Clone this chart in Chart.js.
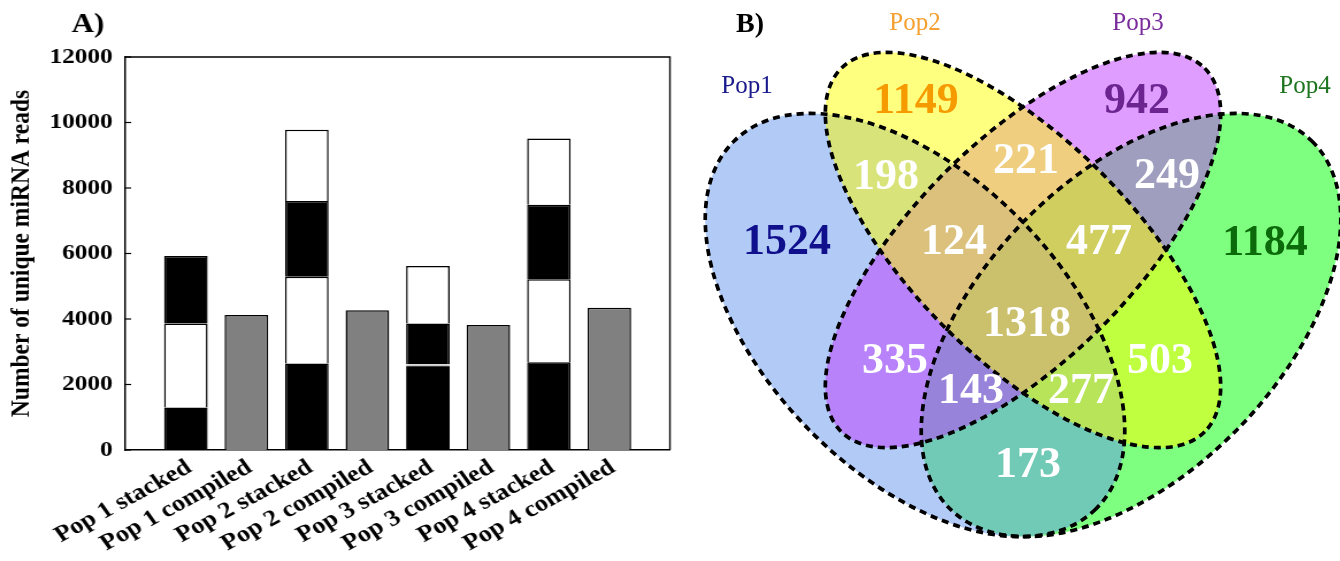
<!DOCTYPE html>
<html><head><meta charset="utf-8">
<script src="https://cdn.jsdelivr.net/npm/chart.js@4.4.1/dist/chart.umd.min.js"></script>
<style>
html,body{margin:0;padding:0;background:#fff;overflow:hidden;}
#wrap{position:relative;width:1340px;height:561px;background:#fff;}
#wa{position:absolute;left:0;top:0;width:584px;height:561px;transform:scaleX(1.15);transform-origin:0 0;}
#wb{position:absolute;left:670px;top:0;width:670px;height:561px;}
</style></head><body>
<div id="wrap">
<div id="wa"><canvas id="cA" width="584" height="561"></canvas></div>
<div id="wb"><canvas id="cB" width="670" height="561"></canvas></div>
</div>
<script>
// ---------- Panel A data ----------
const categories = ['Pop 1 stacked','Pop 1 compiled','Pop 2 stacked','Pop 2 compiled','Pop 3 stacked','Pop 3 compiled','Pop 4 stacked','Pop 4 compiled'];
const segment1 = [1300, null, 2640, null, 2620, null, 2680, null];
const segment2 = [2560, null, 2650, null, 1240, null, 2530, null];
const segment3 = [2060, null, 2310, null, 1760, null, 2280, null];
const segment4 = [null, null, 2180, null, null, null, 2020, null];
const compiled = [null, 4120, null, 4270, null, 3820, null, 4340];
const yTicks = [0, 2000, 4000, 6000, 8000, 10000, 12000];

// ---------- Panel B data ----------
const vennSets = ['Pop1', 'Pop2', 'Pop3', 'Pop4'];
const vennRegions = ['1','2','3','4','12','23','34','123','234','1234','13','134','124','24','14'];
const vennCounts = [1524, 1149, 942, 1184, 198, 221, 249, 124, 477, 1318, 335, 143, 277, 503, 173];

// ---------- styles / layout ----------
const SERIF = "'Liberation Serif','Times New Roman',serif";
const BLACK = '#000000', WHITE = '#ffffff', GRAY = '#808080';
const seg1Colors = [BLACK, null, BLACK, null, BLACK, null, BLACK, null];
const seg2Colors = [WHITE, null, WHITE, null, BLACK, null, WHITE, null];
const seg3Colors = [BLACK, null, BLACK, null, WHITE, null, BLACK, null];
const seg4Colors = [null, null, WHITE, null, null, null, WHITE, null];

const pad = arr => [null, ...arr, null];
const xLabels = ['', ...categories, ''];

function segDataset(label, data, colors) {
  return {
    label, data: pad(data),
    backgroundColor: pad(colors),
    borderColor: BLACK, borderWidth: 1.5,
    barPercentage: 0.9, categoryPercentage: 0.8,
    stack: 's'
  };
}
const dsA = [
  Object.assign(segDataset('seg1', segment1, seg1Colors), {
    borderColor: c => (c.dataIndex === 5 ? '#c8c8c8' : BLACK),
    borderWidth: c => (c.dataIndex === 5 ? {top: 2, left: 0, right: 0, bottom: 0} : 1.5)
  }),
  segDataset('seg2', segment2, seg2Colors),
  segDataset('seg3', segment3, seg3Colors),
  segDataset('seg4', segment4, seg4Colors),
  {label: 'compiled', data: pad(compiled), backgroundColor: GRAY, borderColor: BLACK, borderWidth: 1.5,
   barPercentage: 0.9, categoryPercentage: 0.8, stack: 's'}
];

const frameA = {
  id: 'frameA',
  afterDraw(chart) {
    const {ctx, chartArea: a} = chart;
    const ys = chart.scales.y;
    ctx.save();
    ctx.strokeStyle = BLACK; ctx.lineWidth = 1.3;
    ctx.beginPath();
    ctx.moveTo(a.left, a.top); ctx.lineTo(a.right, a.top); ctx.lineTo(a.right, a.bottom);
    ctx.stroke();
    ctx.lineWidth = 1.2;
    ys.ticks.forEach(t => {
      const y = ys.getPixelForValue(t.value);
      ctx.beginPath(); ctx.moveTo(a.left, y); ctx.lineTo(a.left + 5, y); ctx.stroke();
    });
    ctx.fillStyle = BLACK;
    ctx.font = 'bold 27px ' + SERIF;
    ctx.textAlign = 'center'; ctx.textBaseline = 'alphabetic';
    ctx.fillText('A)', 76.5, 32);
    ctx.restore();
  }
};

new Chart(document.getElementById('cA'), {
  type: 'bar',
  data: {labels: xLabels, datasets: dsA},
  options: {
    responsive: false, animation: false,
    layout: {padding: {left: 0, top: 57, right: 1.5, bottom: 0}},
    plugins: {legend: {display: false}, tooltip: {enabled: false}},
    scales: {
      x: {
        stacked: true, offset: false,
        grid: {display: false, drawTicks: false},
        border: {display: true, color: BLACK, width: 1.5},
        ticks: {autoSkip: false, maxRotation: 32, minRotation: 32, color: BLACK, padding: 4, labelOffset: 3,
                font: {family: SERIF, weight: 'bold', size: 23}},
        afterFit(s) { s.height = 111; s.paddingLeft = 0; s.paddingRight = 0; }
      },
      y: {
        stacked: true, min: 0, max: 12000,
        afterBuildTicks(s) { s.ticks = yTicks.map(v => ({value: v})); },
        grid: {display: false, drawTicks: false},
        border: {display: true, color: BLACK, width: 1.5},
        ticks: {color: BLACK, padding: 11, font: {family: SERIF, weight: 'bold', size: 22},
                callback: v => String(v)},
        title: {display: true, text: 'Number of unique miRNA reads', color: BLACK,
                font: {family: SERIF, weight: 'bold', size: 23.5}, padding: {top: 5, bottom: 0}},
        afterFit(s) { s.width = 109; s.paddingTop = 0; s.paddingBottom = 0; }
      }
    }
  },
  plugins: [frameA]
});

// ---------- Panel B layout (page pixel coordinates) ----------
const ellipses = [ // [cx, cy, a, b, rotationDeg]
  [915, 325, 258, 149, 45.5],   // Pop1
  [1023, 250, 257, 110, 45],    // Pop2
  [1023, 250, 257, 110, -45],   // Pop3
  [1131, 325, 258, 149, -45.5]  // Pop4
];
const ellipseFill = ['rgba(100,149,237,0.5)', 'rgba(255,255,0,0.5)', 'rgba(191,62,255,0.5)', 'rgba(0,255,0,0.5)'];
const fillOrder = [3, 0, 2, 1];
const labelPos = [[787,243],[916,102],[1137,102],[1265,244],[886,178],[1026,162],[1167,177],
                  [954,243],[1099,243],[1027,325],[895,362],[971,392],[1081,392],[1160,362],[1028,466]];
const labelColor = ['#10108c', '#f59b00', '#6b2490', '#0b6b0b'];
const setLabelPos = [[747,93],[915,30],[1138,30],[1305,93]];
const setLabelColor = ['#1a1a8c', '#f5a030', '#7a2c9c', '#1f751f'];

const vennPlugin = {
  id: 'venn',
  beforeDatasetsDraw(chart) {
    const {ctx} = chart; const xs = chart.scales.x, ys = chart.scales.y;
    const path = e => {
      ctx.beginPath();
      ctx.ellipse(xs.getPixelForValue(e[0]), ys.getPixelForValue(e[1]), e[2], e[3], e[4] * Math.PI / 180, 0, Math.PI * 2);
    };
    ctx.save();
    fillOrder.forEach(i => { path(ellipses[i]); ctx.fillStyle = ellipseFill[i]; ctx.fill(); });
    ctx.strokeStyle = '#000'; ctx.lineWidth = 3.7; ctx.setLineDash([7, 5]);
    ellipses.forEach(e => { path(e); ctx.stroke(); });
    ctx.restore();
  },
  afterDatasetsDraw(chart) {
    const {ctx} = chart; const xs = chart.scales.x, ys = chart.scales.y;
    const meta = chart.getDatasetMeta(0);
    ctx.save();
    ctx.textAlign = 'center'; ctx.textBaseline = 'middle';
    ctx.font = 'bold 44px ' + SERIF;
    meta.data.forEach((pt, i) => {
      ctx.fillStyle = vennRegions[i].length === 1 ? labelColor[+vennRegions[i] - 1] : '#ffffff';
      ctx.fillText(String(vennCounts[i]), pt.x, pt.y);
    });
    ctx.font = '25px ' + SERIF; ctx.textBaseline = 'alphabetic';
    vennSets.forEach((s, i) => {
      ctx.fillStyle = setLabelColor[i];
      ctx.fillText(s, xs.getPixelForValue(setLabelPos[i][0]), ys.getPixelForValue(setLabelPos[i][1]));
    });
    ctx.fillStyle = '#000'; ctx.font = 'bold 28px ' + SERIF; ctx.textAlign = 'left';
    ctx.fillText('B)', xs.getPixelForValue(736), ys.getPixelForValue(32));
    ctx.restore();
  }
};

new Chart(document.getElementById('cB'), {
  type: 'scatter',
  data: {datasets: [{data: vennCounts.map((v, i) => ({x: labelPos[i][0], y: labelPos[i][1], count: v})), pointRadius: 0}]},
  options: {
    responsive: false, animation: false,
    layout: {padding: 0},
    plugins: {legend: {display: false}, tooltip: {enabled: false}},
    scales: {
      x: {type: 'linear', min: 670, max: 1340, display: false},
      y: {type: 'linear', min: 0, max: 561, reverse: true, display: false}
    }
  },
  plugins: [vennPlugin]
});
</script>
</body></html>
